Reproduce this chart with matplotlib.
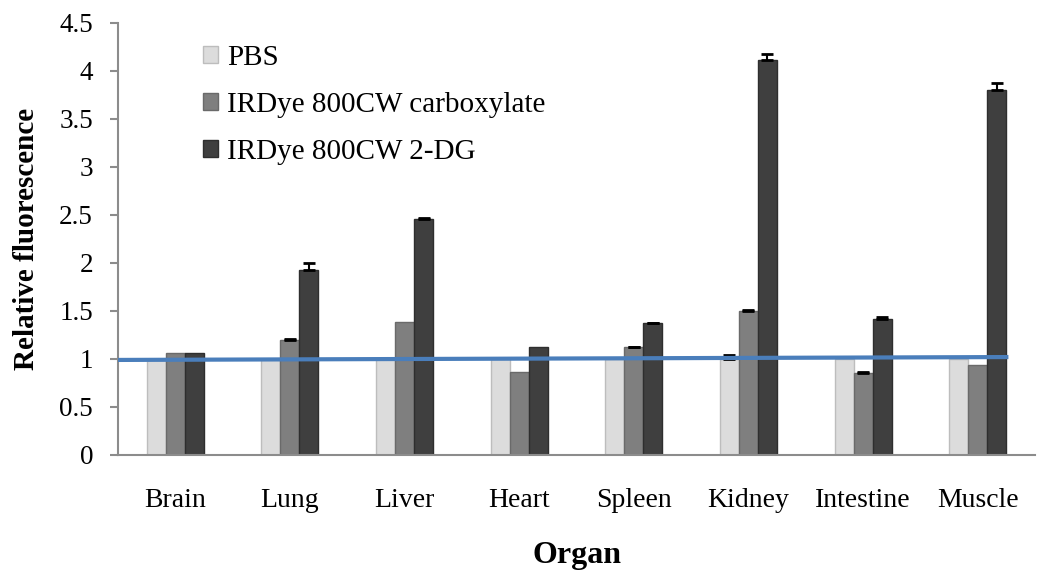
import numpy as np
import matplotlib
matplotlib.use("Agg")
import matplotlib.pyplot as plt

# --------------------------
# Daten
# --------------------------
organs = ["Brain", "Lung", "Liver", "Heart", "Spleen", "Kidney", "Intestine", "Muscle"]
series_names = ["PBS", "IRDye 800CW carboxylate", "IRDye 800CW 2-DG"]

pbs = [1.0, 1.0, 1.0, 1.0, 1.0, 1.0, 1.0, 1.0]
carboxylate = [1.06, 1.20, 1.39, 0.86, 1.12, 1.50, 0.85, 0.94]
dg2 = [1.06, 1.93, 2.46, 1.12, 1.37, 4.11, 1.42, 3.80]

pbs_err = [0, 0, 0, 0, 0, 0.04, 0, 0]
carboxylate_err = [0, 0.01, 0, 0, 0.01, 0.01, 0.01, 0]
dg2_err = [0, 0.07, 0.01, 0, 0.01, 0.07, 0.02, 0.07]

# blaue Referenzlinie (Start/Ende)
ref_x = [-0.5, 7.25]
ref_y = [0.99, 1.02]

colors = ["#dcdcdc", "#7f7f7f", "#3f3f3f"]
edges = ["#bdbdbd", "#6a6a6a", "#2e2e2e"]

plt.rcParams["font.family"] = ["Liberation Serif", "DejaVu Serif"]

fig = plt.figure(figsize=(10.5, 5.79), dpi=100)
ax = fig.add_axes([0.1124, 0.2142, 0.8733, 0.7461])

x = np.arange(len(organs))
width = 0.166
values = [pbs, carboxylate, dg2]
errors = [pbs_err, carboxylate_err, dg2_err]

for i, (vals, errs) in enumerate(zip(values, errors)):
    pos = x + (i - 1) * width
    ax.bar(pos, vals, width, color=colors[i], edgecolor=edges[i],
           linewidth=1.0, label=series_names[i], zorder=2)
    errs = np.array(errs)
    mask = errs > 0
    if mask.any():
        ax.errorbar(pos[mask], np.array(vals)[mask],
                    yerr=[np.zeros(mask.sum()), errs[mask]],
                    fmt="none", ecolor="black", elinewidth=1.5,
                    capsize=4, capthick=2, zorder=3)

ax.plot(ref_x, ref_y, color="#4a7ebb", linewidth=3, zorder=4)

# --------------------------
# Achsen
# --------------------------
ax.set_xlim(-0.5, len(organs) - 0.5)
ax.set_ylim(0, 4.5)
ax.set_yticks(np.arange(0, 4.51, 0.5))
ax.set_yticklabels(["0", "0.5", "1", "1.5", "2", "2.5", "3", "3.5", "4", "4.5"])
ax.set_xticks(x)
ax.set_xticklabels(organs)

for side in ["top", "right"]:
    ax.spines[side].set_visible(False)
for side in ["left", "bottom"]:
    ax.spines[side].set_color("#8c8c8c")
    ax.spines[side].set_linewidth(1.5)

ax.tick_params(axis="y", direction="out", length=6, width=1.5, color="#8c8c8c",
               labelsize=19.5, pad=12)
ax.tick_params(axis="x", length=0, labelsize=20, pad=24)

ax.set_ylabel("Relative fluorescence", fontsize=21, fontweight="bold", labelpad=14)
ax.set_xlabel("Organ", fontsize=23, fontweight="bold", labelpad=20)

ax.legend(loc="upper left", bbox_to_anchor=(203 / 1050, 1 - 45 / 579),
          bbox_transform=fig.transFigure, frameon=False, fontsize=21,
          handlelength=0.52, handleheight=0.52, handletextpad=0.3,
          labelspacing=0.72, borderpad=0, borderaxespad=0)

fig.savefig("out.png", dpi=100)
